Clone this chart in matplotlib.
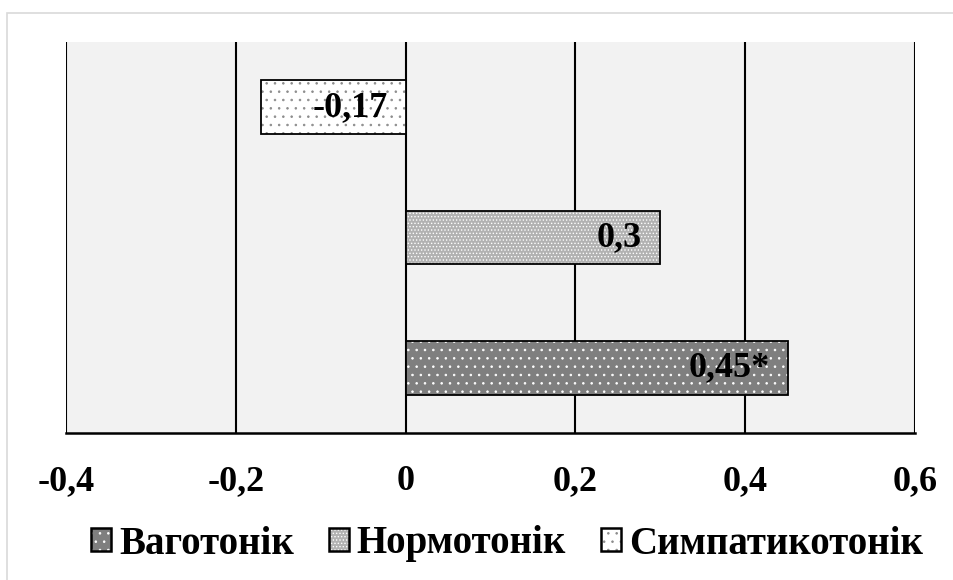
import matplotlib
matplotlib.use("Agg")
import matplotlib.pyplot as plt
from matplotlib.patches import Rectangle, Patch
from matplotlib.legend_handler import HandlerTuple

plt.rcParams['font.family'] = ['Liberation Serif', 'DejaVu Serif']
plt.rcParams['font.weight'] = 'bold'
plt.rcParams['hatch.linewidth'] = 0.6

# Data
groups = ["Ваготонік", "Нормотонік", "Симпатикотонік"]
values = [0.45, 0.30, -0.17]
marks = ["*", "", ""]
xticks = [-0.4, -0.2, 0.0, 0.2, 0.4, 0.6]
xticklabels = ["-0,4", "-0,2", "0", "0,2", "0,4", "0,6"]

# Styles
faces = ["#7f7f7f", "#b2b2b2", "#ffffff"]
dot_colors = ["#ffffff", "#ffffff", "#8c8c8c"]
hatches = ["..", ".....", ".."]

W, H = 954, 580
fig = plt.figure(figsize=(W / 100, H / 100), dpi=100)
fig.patch.set_facecolor("white")

# light frame around the chart
fig.add_artist(Rectangle((7 / W, -0.2), 1.2, (H - 13) / H + 0.2,
                         transform=fig.transFigure, fill=False,
                         edgecolor="#d9d9d9", linewidth=1.2))

left, right, top, bottom = 66, 915, 42, 433
ax = fig.add_axes([left / W, (H - bottom) / H, (right - left) / W, (bottom - top) / H])
ax.set_facecolor("#f2f2f2")

ax.set_xlim(xticks[0], xticks[-1])
ax.set_ylim(-0.5, 2.5)
bar_h = 0.41

handles = []
for i, (v, fc, dc, h) in enumerate(zip(values, faces, dot_colors, hatches)):
    ax.barh(i, v, height=bar_h, color=fc, edgecolor=dc, hatch=h,
            linewidth=0, zorder=3)
    ax.barh(i, v, height=bar_h, fill=False, edgecolor="black",
            linewidth=1.3, zorder=4)
    label = f"{v:g}".replace(".", ",") + marks[i]
    ax.annotate(label, xy=(max(v, 0), i), xytext=(-13, 0),
                textcoords="offset points", ha="right", va="center",
                fontsize=26, fontweight="bold", color="black", zorder=5)
    handles.append((Patch(facecolor=fc, edgecolor=dc, hatch=h, linewidth=0),
                    Patch(fill=False, edgecolor="black", linewidth=1.8)))

ax.set_xticks(xticks)
ax.set_xticklabels(xticklabels)
ax.set_yticks([])
ax.tick_params(axis="x", length=0, pad=23, labelsize=26)
for lbl in ax.get_xticklabels():
    lbl.set_fontweight("bold")

ax.grid(axis="x", color="black", linewidth=1.5, zorder=1)
ax.set_axisbelow(True)
for s in ["top", "left", "right"]:
    ax.spines[s].set_visible(False)
ax.spines["bottom"].set_linewidth(1.8)
ax.spines["bottom"].set_zorder(6)

leg = fig.legend(handles, groups, loc="center", bbox_to_anchor=(507 / W, (H - 544) / H),
                 ncol=3, frameon=False, fontsize=28,
                 handler_map={tuple: HandlerTuple(ndivide=1)},
                 handlelength=0.52, handleheight=0.52, handletextpad=0.2,
                 columnspacing=0.9, borderaxespad=0, borderpad=0)
for t in leg.get_texts():
    t.set_fontweight("bold")

fig.savefig("out.png", dpi=100)
